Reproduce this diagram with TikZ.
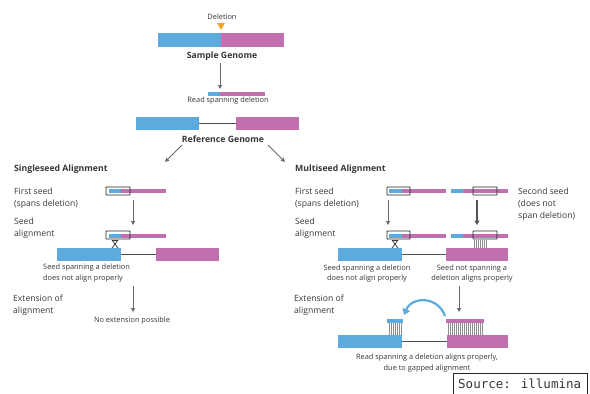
\documentclass[tikz,border=0pt]{standalone}
\usepackage{fontspec}
\setmainfont{Open Sans}
\newfontfamily\srcfont{DejaVu Sans Mono}
\usetikzlibrary{arrows.meta}
\definecolor{gblue}{RGB}{92,170,222}
\definecolor{gpurple}{RGB}{192,112,174}
\definecolor{gorange}{RGB}{246,160,40}
\definecolor{txt}{RGB}{55,55,55}
\definecolor{arr}{RGB}{105,105,105}
\begin{document}
\begin{tikzpicture}[x=1pt,y=-1pt,
  bar/.style={rectangle,inner sep=0,outer sep=0,anchor=north west},
  bb/.style={bar,fill=gblue},
  pb/.style={bar,fill=gpurple},
  lbl/.style={inner sep=0,text=txt,font=\fontsize{8.6}{12}\selectfont},
  small/.style={inner sep=0,text=txt,font=\fontsize{7.4}{10.5}\selectfont},
  ttl/.style={inner sep=0,text=txt,font=\fontsize{8.7}{10}\selectfont\bfseries},
  arrowline/.style={draw=arr,line width=0.9pt,-{Triangle[length=4pt,width=4pt]}},
  bigarrow/.style={draw=arr!80!black,line width=1.3pt,-{Triangle[length=4.5pt,width=5pt]}},
  seedbox/.style={rectangle,draw=black!85,line width=0.9pt,rounded corners=0.6pt,inner sep=0,outer sep=0,anchor=north west},
  link/.style={draw=black!70,line width=0.6pt},
  hatch/.style={draw=black!45,line width=0.5pt}
]
\useasboundingbox (0,0) rectangle (590,394);
\fill[white] (0,0) rectangle (590,394);

% ---------- sample genome ----------
\node[small] (del) at (222,17) {Deletion};
\fill[gorange] (217,23) -- (225,23) -- (221,30) -- cycle;
\node[bb,minimum width=63,minimum height=14] (sgL) at (158,33) {};
\node[pb,minimum width=63,minimum height=14] (sgR) at (221,33) {};
\node[ttl] (sgt) at (222,56) {Sample Genome};
\coordinate (a1s) at (220,63);
\coordinate (a1e) at (220,89);
\draw[arrowline] (a1s) -- (a1e);

% read spanning the deletion
\node[bb,minimum width=12,minimum height=4] (rdL) at (208,92) {};
\node[pb,minimum width=45,minimum height=4] (rdR) at (220,92) {};
\node[small] (rdt) at (228,101) {Read spanning deletion};

% ---------- reference genome ----------
\node[bb,minimum width=63,minimum height=13] (rgL) at (136,117) {};
\node[pb,minimum width=63,minimum height=13] (rgR) at (236,117) {};
\draw[link] (rgL.east) -- (rgR.west);
\node[ttl] (rgt) at (223,139) {Reference Genome};
\coordinate (bl1) at (182,145);
\coordinate (bl2) at (165,162);
\coordinate (br1) at (268,145);
\coordinate (br2) at (285,162);
\draw[arrowline] (bl1) -- (bl2);
\draw[arrowline] (br1) -- (br2);

% ---------- singleseed alignment ----------
\node[ttl,anchor=west] (sst) at (14,169) {Singleseed Alignment};
\node[lbl,anchor=north west,align=left] (sfs) at (14,187.8) {First seed\\(spans deletion)};
\node[lbl,anchor=north west,align=left] (ssa) at (14,217.5) {Seed\\alignment};
\node[lbl,anchor=north west,align=left] (sex) at (13,294.8) {Extension of\\alignment};

\node[bb,minimum width=12,minimum height=4] (s1L) at (109,189) {};
\node[pb,minimum width=45,minimum height=4] (s1R) at (121,189) {};
\node[seedbox,minimum width=24,minimum height=8] (s1B) at (106,187) {};
\coordinate (sa1) at (133,200);
\coordinate (sa2) at (133,225);
\draw[arrowline] (sa1) -- (sa2);

\node[bb,minimum width=12,minimum height=4] (s2L) at (109,234) {};
\node[pb,minimum width=45,minimum height=4] (s2R) at (121,234) {};
\node[seedbox,minimum width=24,minimum height=8] (s2B) at (106,231) {};

\node[bb,minimum width=64,minimum height=13] (srL) at (57,248) {};
\node[pb,minimum width=63,minimum height=13] (srR) at (156,248) {};
\draw[link] (srL.east) -- (srR.west);
% misaligned seed
\draw[black!80,line width=0.7pt] (112,240) -- (118,248) (118,240) -- (112,248) (112,240.5) -- (118,240.5);

\node[small,anchor=north west,align=left] (snt) at (43,264) {Seed spanning a deletion\\does not align properly};
\coordinate (sa3) at (133,286);
\coordinate (sa4) at (133,312);
\draw[arrowline] (sa3) -- (sa4);
\node[small] (snx) at (132,321) {No extension possible};

% ---------- multiseed alignment ----------
\node[ttl,anchor=west] (mst) at (295,169) {Multiseed Alignment};
\node[lbl,anchor=north west,align=left] (mfs) at (295,187.8) {First seed\\(spans deletion)};
\node[lbl,anchor=north west,align=left] (msa) at (295,217.5) {Seed\\alignment};
\node[lbl,anchor=north west,align=left] (mex) at (294,294.8) {Extension of\\alignment};
\node[lbl,anchor=north west,align=left] (m2s) at (518,187.5) {Second seed\\(does not\\span deletion)};

% first and second seed on the read
\node[bb,minimum width=13,minimum height=4] (m1L) at (389,189) {};
\node[pb,minimum width=44,minimum height=4] (m1R) at (402,189) {};
\node[seedbox,minimum width=23,minimum height=8] (m1B) at (387,187) {};
\node[bb,minimum width=12,minimum height=4] (n1L) at (451,189) {};
\node[pb,minimum width=45,minimum height=4] (n1R) at (463,189) {};
\node[seedbox,minimum width=24,minimum height=8] (n1B) at (473,187) {};
\coordinate (ma1) at (388,200);
\coordinate (ma2) at (388,225);
\draw[arrowline] (ma1) -- (ma2);
\coordinate (mb1) at (477,200);
\coordinate (mb2) at (477,225);
\draw[bigarrow] (mb1) -- (mb2);

\node[bb,minimum width=13,minimum height=4] (m2L) at (389,234) {};
\node[pb,minimum width=44,minimum height=4] (m2R) at (402,234) {};
\node[seedbox,minimum width=23,minimum height=8] (m2B) at (387,231) {};
\node[bb,minimum width=12,minimum height=4] (n2L) at (451,234) {};
\node[pb,minimum width=45,minimum height=4] (n2R) at (463,234) {};
\node[seedbox,minimum width=24,minimum height=8] (n2B) at (473,231) {};

\node[bb,minimum width=64,minimum height=13] (mrL) at (338,248) {};
\node[pb,minimum width=62,minimum height=13] (mrR) at (446,248) {};
\draw[link] (mrL.east) -- (mrR.west);
\draw[black!80,line width=0.7pt] (392,240) -- (398,248) (398,240) -- (392,248) (392,240.5) -- (398,240.5);
\foreach \x in {474,476,...,486} \draw[hatch] (\x,240) -- (\x,248);

\node[small,align=center] (mnt1) at (367,273.5) {Seed spanning a deletion\\does not align properly};
\node[small,align=center] (mnt2) at (472,273.5) {Seed not spanning a\\deletion aligns properly};
\coordinate (ma3) at (459,286);
\coordinate (ma4) at (459,312);
\draw[arrowline] (ma3) -- (ma4);

% gapped alignment
\node[bb,minimum width=16,minimum height=4] (gL) at (387,319) {};
\node[pb,minimum width=38,minimum height=4] (gR) at (446,319) {};
\foreach \x in {389,391,...,401} \draw[hatch] (\x,323) -- (\x,335);
\foreach \x in {448,450,...,482} \draw[hatch] (\x,323) -- (\x,335);
\node[bb,minimum width=64,minimum height=13] (grL) at (338,335) {};
\node[pb,minimum width=61,minimum height=13] (grR) at (447,335) {};
\draw[link] (grL.east) -- (grR.west);
\coordinate (cv1) at (445,316);
\coordinate (cv2) at (404,315);
\draw[gblue,line width=2.2pt,-{Triangle[length=6pt,width=8pt]}] (cv1) .. controls (438,296) and (412,296) .. (cv2);
\node[small,align=center] (gtx) at (427,363) {Read spanning a deletion aligns properly,\\due to gapped alignment};

% ---------- source box ----------
\draw[black!85,line width=0.8pt] (453,396) -- (453,373) -- (587,373) -- (587,396);
\node[inner sep=0,anchor=west,text=txt,font=\srcfont\fontsize{12.5}{14}\selectfont] (src) at (458,384) {Source: illumina};
\end{tikzpicture}
\end{document}
